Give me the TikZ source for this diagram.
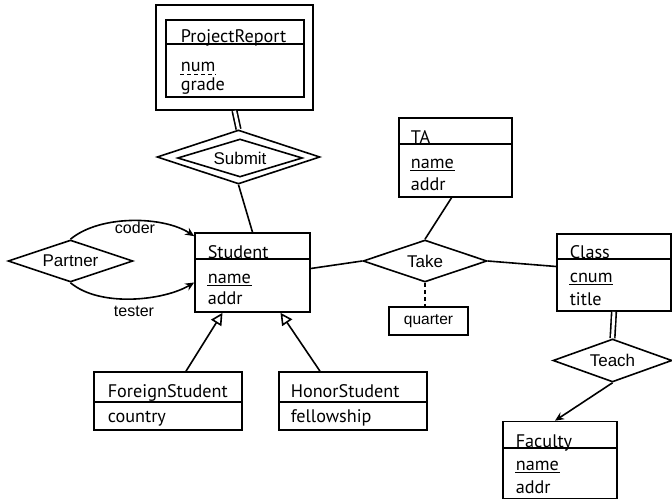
\documentclass[tikz,border=0pt]{standalone}
\usepackage{fontspec}
\setmainfont{Liberation Sans}
\newfontfamily\boxfont{PT Sans}
\usetikzlibrary{arrows.meta,shapes.geometric,calc}
\begin{document}
\begin{tikzpicture}[x=1pt,y=-1pt,line width=1.6pt,
  ent/.style={draw, rectangle, inner sep=0pt},
  attr/.style={anchor=base west, inner sep=0pt, font=\boxfont\fontsize{18.2}{21}\selectfont},
  rel/.style={draw, diamond, shape aspect=3, inner sep=0pt, font=\fontsize{17}{20}\selectfont},
  lbl/.style={inner sep=0pt, font=\fontsize{16}{19}\selectfont},
  key/.style={line width=1.3pt},
  pkey/.style={line width=1.3pt, dash pattern=on 4pt off 3pt},
  arr/.style={-{Stealth[length=9pt,width=8pt,inset=3pt]}},
  isa/.style={-{Triangle[open,length=12pt,width=12pt]}, fill=white},
  dbl/.style={double, double distance=3pt}
]
\useasboundingbox (0,0) rectangle (672,500);

% ProjectReport (weak entity)
\node[ent, minimum width=157pt, minimum height=105pt] (prout) at (234.5,57.5) {};
\node[ent, minimum width=138pt, minimum height=77pt] (pr) at (235,58.5) {};
\node[attr] (prt) at (180,43) {ProjectReport};
\node[attr] (prn) at (180,72) {num};
\node[attr] (prg) at (180,91) {grade};
\draw ([yshift=-1pt]prt.base -| pr.west) -- ([yshift=-1pt]prt.base -| pr.east);
\draw[pkey] ([yshift=-2.5pt]prn.base west) -- ([yshift=-2.5pt]prn.base east);

% Submit (identifying relationship)
\node[rel, minimum width=163pt, minimum height=54pt] (subo) at (238.5,157) {};
\node[rel, minimum width=125pt, minimum height=38pt] (sub) at (240,158) {Submit};

% Student
\node[ent, minimum width=115pt, minimum height=79pt] (student) at (252.5,272.5) {};
\node[attr] (st) at (207,258) {Student};
\node[attr] (sn) at (207,283) {name};
\node[attr] (sa) at (207,304) {addr};
\draw ([yshift=-1pt]st.base -| student.west) -- ([yshift=-1pt]st.base -| student.east);
\draw[key] ([yshift=-2.5pt]sn.base west) -- ([yshift=-2.5pt]sn.base east);

% Partner
\node[rel, minimum width=125pt, minimum height=42pt] (partner) at (70.5,261) {Partner};
\node[lbl] (coder) at (135,228) {coder};
\node[lbl] (tester) at (134,311) {tester};

% Take
\node[rel, minimum width=124pt, minimum height=42pt] (take) at (425,261) {Take};
\node[ent, minimum width=79pt, minimum height=28pt, font=\fontsize{15.5}{18}\selectfont] (quarter) at (428.5,321) {quarter};

% TA
\node[ent, minimum width=113pt, minimum height=79pt] (ta) at (455.5,157.5) {};
\node[attr] (tat) at (410,143) {TA};
\node[attr] (tan) at (410,168) {name};
\node[attr] (taa) at (410,190) {addr};
\draw ([yshift=-1pt]tat.base -| ta.west) -- ([yshift=-1pt]tat.base -| ta.east);
\draw[key] ([yshift=-2.5pt]tan.base west) -- ([yshift=-2.5pt]tan.base east);

% Class
\node[ent, minimum width=114pt, minimum height=77pt] (class) at (614,272.5) {};
\node[attr] (ct) at (569,258) {Class};
\node[attr] (cn) at (569,282) {cnum};
\node[attr] (cti) at (569,305) {title};
\draw ([yshift=-1pt]ct.base -| class.west) -- ([yshift=-1pt]ct.base -| class.east);
\draw[key] ([yshift=-2.5pt]cn.base west) -- ([yshift=-2.5pt]cn.base east);

% Teach
\node[rel, minimum width=119pt, minimum height=43pt] (teach) at (612.5,360.5) {Teach};

% Faculty
\node[ent, minimum width=114pt, minimum height=77pt] (faculty) at (560,460) {};
\node[attr] (ft) at (515,447) {Faculty};
\node[attr] (fn) at (515,470) {name};
\node[attr] (fa) at (515,493) {addr};
\draw ([yshift=-1pt]ft.base -| faculty.west) -- ([yshift=-1pt]ft.base -| faculty.east);
\draw[key] ([yshift=-2.5pt]fn.base west) -- ([yshift=-2.5pt]fn.base east);

% ForeignStudent
\node[ent, minimum width=148pt, minimum height=58pt] (foreign) at (168,401) {};
\node[attr] (fst) at (107,397) {ForeignStudent};
\node[attr] (fsc) at (107,422) {country};
\draw ([yshift=-1pt]foreign.west) -- ([yshift=-1pt]foreign.east);

% HonorStudent
\node[ent, minimum width=148pt, minimum height=58pt] (honor) at (353,401) {};
\node[attr] (hst) at (290,397) {HonorStudent};
\node[attr] (hsf) at (290,422) {fellowship};
\draw ([yshift=-1pt]honor.west) -- ([yshift=-1pt]honor.east);

% connectors
\draw[dbl] (prout.south) -- (subo.north);
\draw (subo.south) -- (student.north);
\draw[arr] (partner.north) .. controls +(30,-25) and +(-30,-20) .. ([yshift=-4pt]student.north west);
\draw[arr] (partner.south) .. controls +(30,25) and +(-30,18) .. ([yshift=-10pt]student.west);
\draw ([yshift=4pt]student.east) -- (take.west);
\draw (take.east) -- ([yshift=6pt]class.west);
\draw ([xshift=-4pt]ta.south) -- (take.north);
\draw[dash pattern=on 4pt off 3pt] (take.south) -- (take.south |- quarter.north);
\draw[dbl] (class.south) -- (teach.north);
\draw[arr] (teach.south) -- ([xshift=-5pt]faculty.north);
\draw[isa] ([xshift=18pt]foreign.north) -- ([xshift=-30pt]student.south);
\draw[isa] ([xshift=-33pt]honor.north) -- ([xshift=28pt]student.south);
\end{tikzpicture}
\end{document}
